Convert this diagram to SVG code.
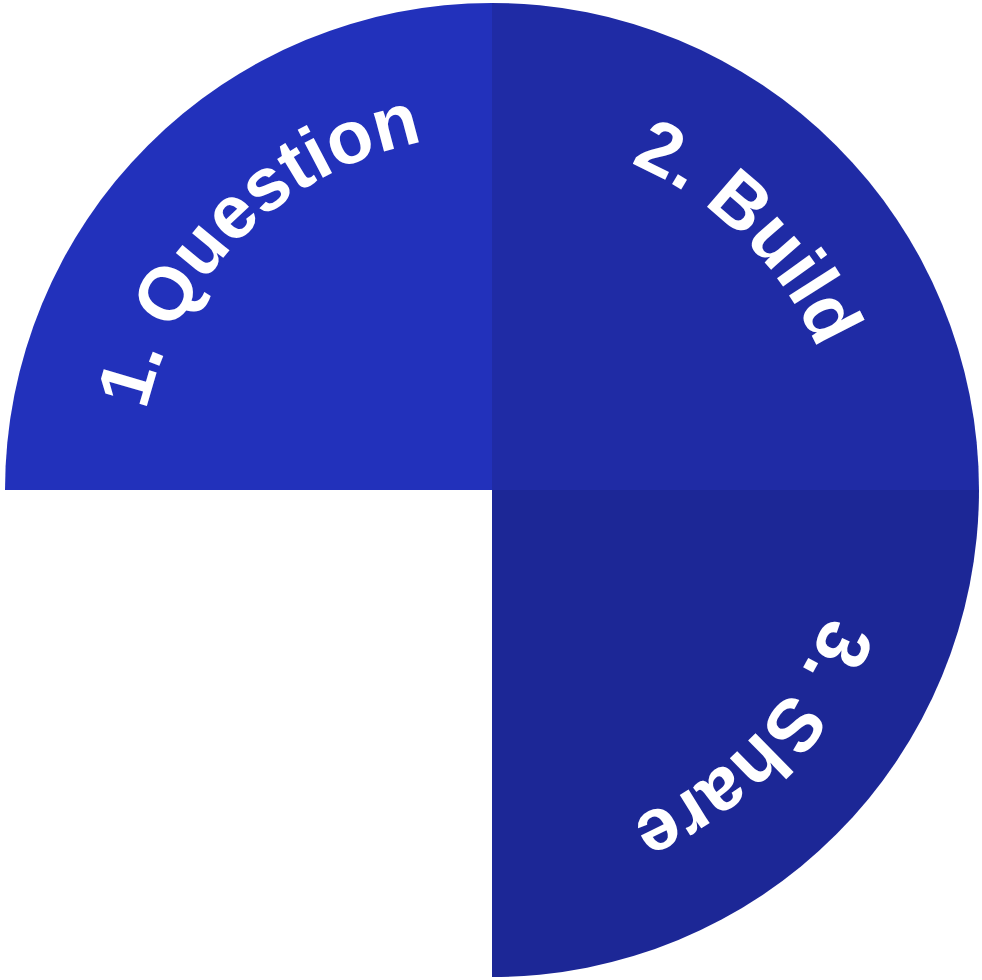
<svg xmlns="http://www.w3.org/2000/svg" xmlns:xlink="http://www.w3.org/1999/xlink" width="982" height="980" viewBox="0 0 982 980">
  <style>
    .lbl { font-family: "Liberation Sans", Arial, sans-serif; font-weight: bold; font-size: 75px; fill: #ffffff; }
  </style>
  <defs>
    <path id="arcQ" d="M137,490 A355,355 0 0 1 492,135 A355,355 0 0 1 847,490"/>
    <path id="arcB" d="M492,135 A355,355 0 0 1 847,490 A355,355 0 0 1 492,845"/>
    <path id="arcS" d="M850,490 A358,358 0 0 1 492,848 A358,358 0 0 1 134,490"/>
  </defs>
  <rect width="982" height="980" fill="#ffffff"/>
  <g id="question">
    <path d="M492,490 L5,490 A487,487 0 0 1 492,3 Z" fill="#2231BB"/>
    <text class="lbl"><textPath xlink:href="#arcQ" href="#arcQ" startOffset="80">1. Question</textPath></text>
  </g>
  <g id="build">
    <path d="M492,490 L492,3 A487,487 0 0 1 979,490 Z" fill="#1F2BA5"/>
    <text class="lbl"><textPath xlink:href="#arcB" href="#arcB" startOffset="142">2. Build</textPath></text>
  </g>
  <g id="share">
    <path d="M492,490 L979,490 A487,487 0 0 1 492,977 Z" fill="#1C2796"/>
    <text class="lbl"><textPath xlink:href="#arcS" href="#arcS" startOffset="128">3. Share</textPath></text>
  </g>
  <g id="connectors"/>
</svg>
